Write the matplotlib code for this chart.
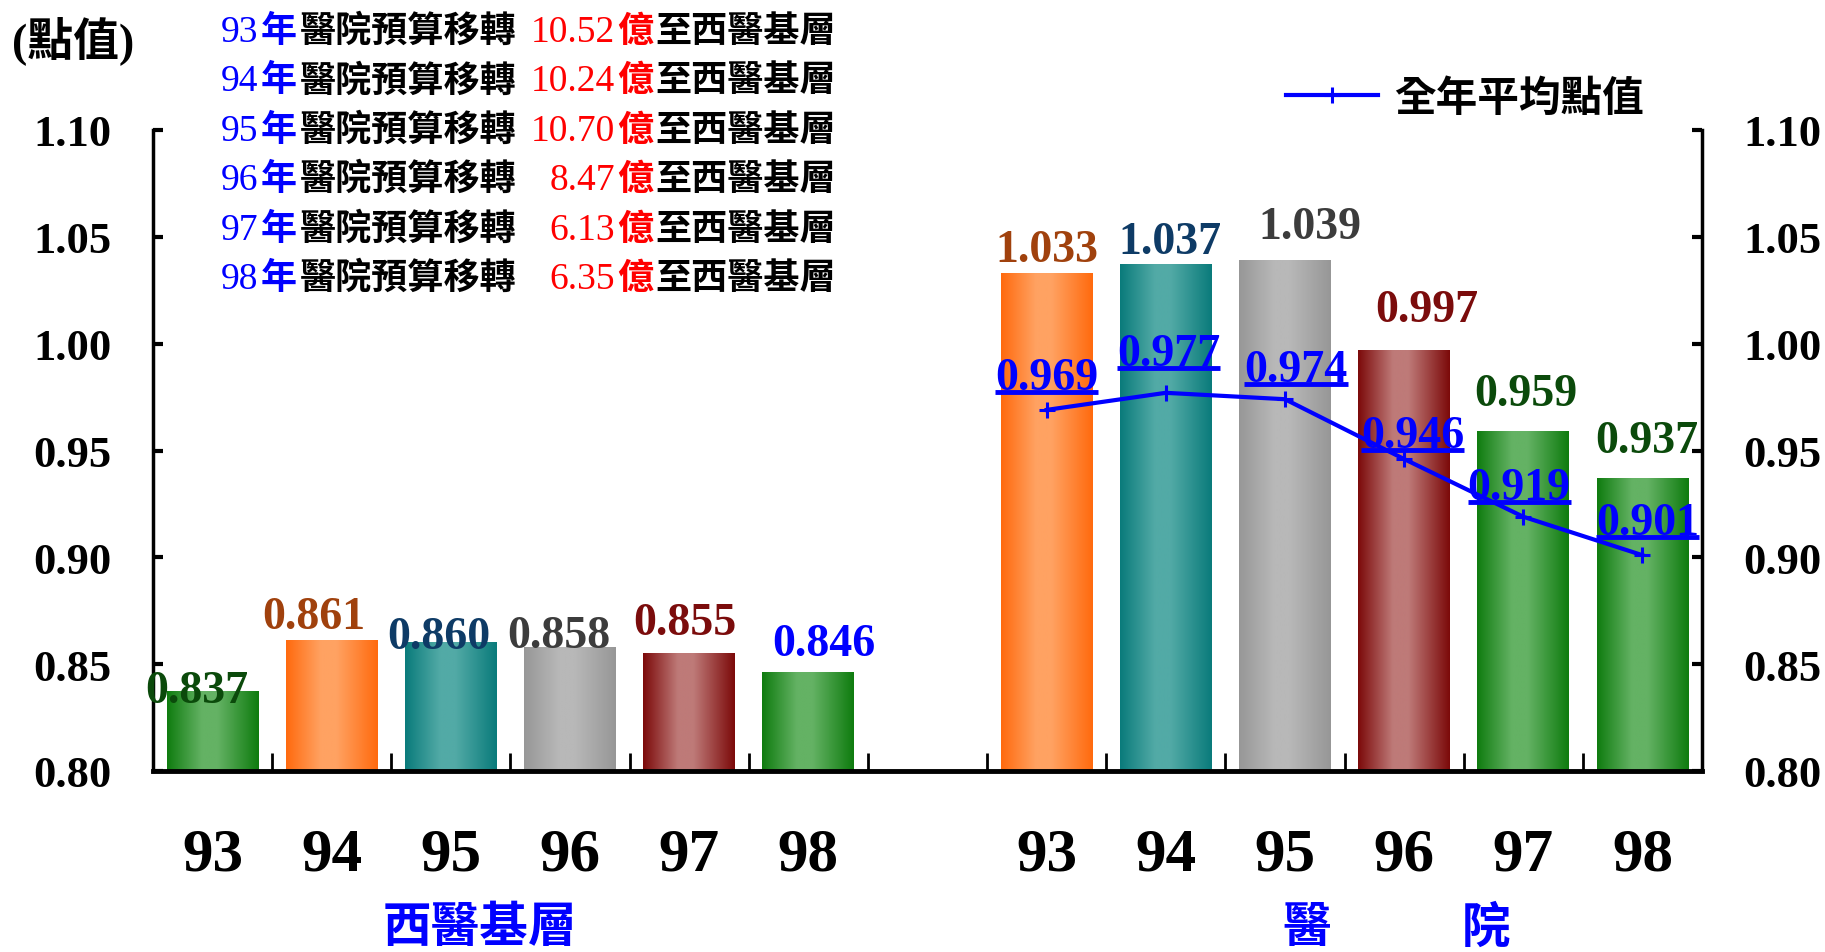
import numpy as np
import matplotlib.pyplot as plt
from matplotlib.colors import to_rgb
from matplotlib.lines import Line2D

# 點值資料 (93~98年)
years = ['93', '94', '95', '96', '97', '98']
clinic_values = [0.837, 0.861, 0.860, 0.858, 0.855, 0.846]      # 西醫基層
hospital_values = [1.033, 1.037, 1.039, 0.997, 0.959, 0.937]    # 醫院
hospital_avg = [0.969, 0.977, 0.974, 0.946, 0.919, 0.901]       # 醫院全年平均點值
transfer_amounts = ['10.52', '10.24', '10.70', '8.47', '6.13', '6.35']  # 移轉金額(億)
y_ticks = [0.80, 0.85, 0.90, 0.95, 1.00, 1.05, 1.10]

W, H = 1825, 953
SERIF = 'Liberation Serif'
CJK = 'Noto Sans CJK TC'

# 長條的漸層色 (邊緣深色, 中間淺色)
GREEN = ('#0f7c0f', '#64b264')
ORANGE = ('#ff6a0e', '#ffa262')
TEAL = ('#0a7b7b', '#52aaa6')
GRAY = ('#979797', '#b8b8b8')
RED = ('#7c0a0a', '#be7a78')
clinic_bar_colors = [GREEN, ORANGE, TEAL, GRAY, RED, GREEN]
hospital_bar_colors = [ORANGE, TEAL, GRAY, RED, GREEN, GREEN]
clinic_label_colors = ['#0b4a0b', '#a0410d', '#0e3b66', '#3c3c3c', '#7b0c0c', '#0000ff']
hospital_label_colors = ['#a0410d', '#0e3b66', '#3c3c3c', '#7b0c0c', '#0b4a0b', '#0b4a0b']
# 標籤位移 (pt)
clinic_offsets = [(-11, -7), (-13, 9), (-9, -4), (-8, 0), (-3, 14), (11, 13)]
hospital_offsets = [(0, 9), (3, 8), (18, 16), (16, 21), (2, 19), (3, 19)]
avg_offsets = [(0, 15), (2, 20), (8, 13), (6, 9), (-3, 13), (4, 15)]

x_clinic = np.arange(len(years))
x_hosp = np.arange(len(years)) + len(years) + 1

fig = plt.figure(figsize=(W / 100, H / 100), dpi=100)
ax = fig.add_axes([153 / W, 1 - 772 / H, (1702 - 153) / W, (772 - 131) / H])


def gradient_bar(rect, dark, light):
    t = np.linspace(0, 1, 128)
    w = np.interp(t, [0, 0.38, 0.55, 1], [0, 1, 1, 0])
    d, l = np.array(to_rgb(dark)), np.array(to_rgb(light))
    img = d[None, :] * (1 - w[:, None]) + l[None, :] * w[:, None]
    x0, y0 = rect.get_x(), rect.get_y()
    ax.imshow(img[None, :, :], extent=[x0, x0 + rect.get_width(), y0, y0 + rect.get_height()],
              aspect='auto', interpolation='bilinear', zorder=2)


bw = 0.77
b1 = ax.bar(x_clinic, np.array(clinic_values) - 0.8, bw, bottom=0.8, color='none', zorder=2)
b2 = ax.bar(x_hosp, np.array(hospital_values) - 0.8, bw, bottom=0.8, color='none', zorder=2)
for r, c in zip(b1, clinic_bar_colors):
    gradient_bar(r, *c)
for r, c in zip(b2, hospital_bar_colors):
    gradient_bar(r, *c)

line, = ax.plot(x_hosp, hospital_avg, color='#0000ff', lw=3, marker='+', ms=12, mew=2.2,
                zorder=3, label='全年平均點值')

# 長條數值標籤
for xs, vals, cols, offs in [(x_clinic, clinic_values, clinic_label_colors, clinic_offsets),
                             (x_hosp, hospital_values, hospital_label_colors, hospital_offsets)]:
    for x, v, c, (dx, dy) in zip(xs, vals, cols, offs):
        ax.annotate(f'{v:.3f}', (x, v), xytext=(dx, dy), textcoords='offset points',
                    ha='center', va='baseline', color=c, fontsize=33, fontweight='bold',
                    family=SERIF, zorder=4)

# 平均點值標籤 (加底線)
avg_texts = []
for x, v, (dx, dy) in zip(x_hosp, hospital_avg, avg_offsets):
    t = ax.annotate(f'{v:.3f}', (x, v), xytext=(dx, dy), textcoords='offset points',
                    ha='center', va='baseline', color='#0000ff', fontsize=33,
                    fontweight='bold', family=SERIF, zorder=4)
    avg_texts.append(t)

ax.set_xlim(-0.5, 2 * len(years) + 0.5)
ax.set_ylim(0.80, 1.10)
ax.set_yticks(y_ticks)
ax.set_yticklabels([f'{v:.2f}' for v in y_ticks])
ax.set_xticks(list(x_clinic) + list(x_hosp))
ax.set_xticklabels(years + years)
ax.set_xticks(np.arange(0.5, 2 * len(years), 1.0), minor=True)

ax.tick_params(axis='x', which='major', length=0, pad=40, labelsize=44)
ax.tick_params(axis='x', which='minor', direction='in', length=13, width=2)
ax.tick_params(axis='y', direction='in', length=7, width=3, left=True, right=True,
               labelleft=True, labelright=True, labelsize=32, pad=30)
for lab in ax.get_xticklabels():
    lab.set_family(SERIF)
    lab.set_fontweight('bold')
for t in ax.yaxis.get_major_ticks():
    for lab in (t.label1, t.label2):
        lab.set_family(SERIF)
        lab.set_fontweight('bold')

ax.spines['top'].set_visible(False)
ax.spines['bottom'].set_linewidth(3.5)
ax.spines['left'].set_linewidth(2.5)
ax.spines['right'].set_linewidth(2.5)

ax.legend(handles=[line], loc='center left', bbox_to_anchor=(1286 / W, 1 - 99 / H),
          bbox_transform=fig.transFigure, frameon=False, borderpad=0, borderaxespad=0,
          handlelength=2.2, handletextpad=0.4, numpoints=1,
          prop={'family': CJK, 'weight': 'bold', 'size': 30})


def ftext(px, py, s, **kw):
    return fig.text(px / W, 1 - py / H, s, **kw)


# 座標軸單位
ftext(12, 41, '(點值)', ha='left', va='center', fontsize=33, fontweight='bold',
      family=[SERIF, CJK])

# 預算移轉說明
for i, (y, amt) in enumerate(zip(years, transfer_amounts)):
    base = 28 + 49.4 * i + 14
    ftext(221, base, y, ha='left', va='baseline', color='#0000ff', fontsize=27, family=SERIF)
    ftext(261, base, '年', ha='left', va='baseline', color='#0000ff', fontsize=26,
          fontweight='bold', family=CJK)
    ftext(300, base, '醫院預算移轉', ha='left', va='baseline', color='black', fontsize=26,
          fontweight='bold', family=CJK)
    ftext(615, base, amt, ha='right', va='baseline', color='#ff0000', fontsize=27, family=SERIF)
    ftext(617, base, '億', ha='left', va='baseline', color='#ff0000', fontsize=26,
          fontweight='bold', family=CJK)
    ftext(655, base, '至西醫基層', ha='left', va='baseline', color='black', fontsize=26,
          fontweight='bold', family=CJK)

# 組別名稱
ftext(480, 928, '西醫基層', ha='center', va='center', color='#0000ff', fontsize=35,
      fontweight='bold', family=CJK)
ftext(1307, 928, '醫', ha='center', va='center', color='#0000ff', fontsize=35,
      fontweight='bold', family=CJK)
ftext(1486, 928, '院', ha='center', va='center', color='#0000ff', fontsize=35,
      fontweight='bold', family=CJK)

# 平均點值標籤底線
fig.canvas.draw()
for t in avg_texts:
    bb = t.get_window_extent()
    yl = bb.y0 + 7
    fig.add_artist(Line2D([bb.x0 / W, bb.x1 / W], [yl / H, yl / H], transform=fig.transFigure,
                          color='#0000ff', lw=3.5, solid_capstyle='butt', zorder=5))

fig.savefig('out.png', dpi=100, facecolor='white')
